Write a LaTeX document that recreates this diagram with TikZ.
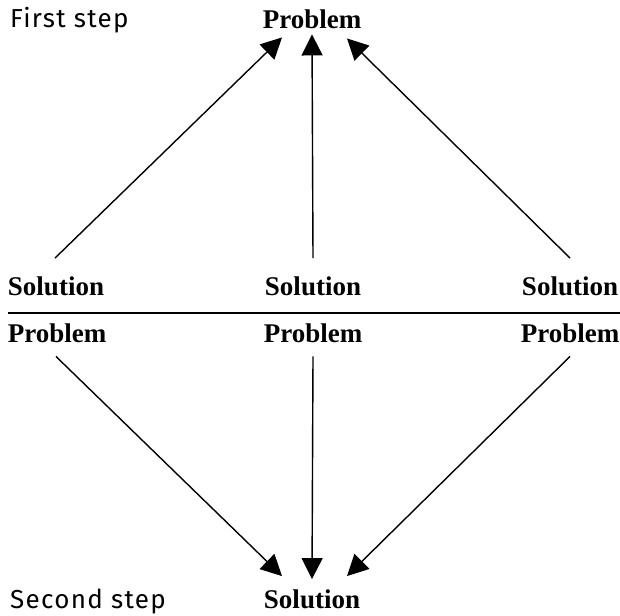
\documentclass[tikz,border=0pt]{standalone}
\usepackage{fontspec}
\setmainfont{Liberation Serif}
\newfontfamily\stepfont[LetterSpace=5]{Fira Sans}
\usetikzlibrary{arrows.meta}

\tikzset{
  term/.style={font=\fontsize{27}{32}\selectfont\bfseries, inner sep=0pt, anchor=base},
  steplabel/.style={font=\stepfont\fontsize{26}{30}\selectfont, inner sep=0pt, anchor=base west},
  arr/.style={line width=1.4pt, -{Triangle[length=21pt,width=21pt]}},
}

\begin{document}
\begin{tikzpicture}[x=1pt,y=-1pt]
\useasboundingbox (0,0) rectangle (620,615);
% first step
\node[steplabel] (first) at (10,28) {First step};
\node[term] (top) at (312,29) {Problem};
\node[term] (s1) at (56,295) {Solution};
\node[term] (s2) at (313,295) {Solution};
\node[term] (s3) at (570,295) {Solution};
\draw[arr] ([xshift=-1pt,yshift=18pt]s1.north) -- ([xshift=-30pt,yshift=-8pt]top.south);
\draw[arr] ([yshift=18pt]s2.north) -- ([yshift=-5pt]top.south);
\draw[arr] ([yshift=18pt]s3.north) -- ([xshift=35pt,yshift=-9pt]top.south);
% divider
\draw[line width=1.2pt] (8,313) -- (620,313);
% second step
\node[term] (p1) at (57,342) {Problem};
\node[term] (p2) at (313,342) {Problem};
\node[term] (p3) at (570,342) {Problem};
\node[term] (bottom) at (312,608) {Solution};
\node[steplabel] (second) at (10,608) {Second step};
\draw[arr] ([xshift=-1pt,yshift=-14pt]p1.south) -- ([xshift=-30pt,yshift=13pt]bottom.north);
\draw[arr] ([yshift=-14pt]p2.south) -- ([yshift=10pt]bottom.north);
\draw[arr] ([yshift=-14pt]p3.south) -- ([xshift=35pt,yshift=13pt]bottom.north);
\end{tikzpicture}
\end{document}
